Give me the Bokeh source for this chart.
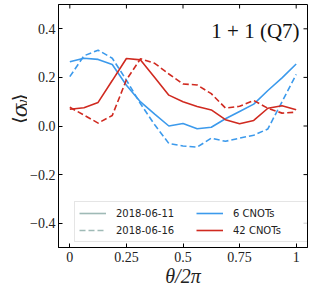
import math
from bokeh.plotting import figure
from bokeh.layouts import row
from bokeh.models import Legend, LegendItem, FixedTicker, Label, Range1d
from bokeh.embed import file_html
from bokeh.resources import INLINE

# ---- data ----
theta = [0, 0.0625, 0.125, 0.1875, 0.25, 0.3125, 0.375, 0.4375, 0.5,
         0.5625, 0.625, 0.6875, 0.75, 0.8125, 0.875, 0.9375, 1.0]
sy_6cnot_0611 = [0.264, 0.279, 0.274, 0.253, 0.168, 0.099, 0.049, 0.000, 0.010,
                 -0.011, -0.005, 0.030, 0.060, 0.090, 0.146, 0.198, 0.255]
sy_6cnot_0616 = [0.203, 0.289, 0.312, 0.279, 0.189, 0.091, 0.005, -0.072, -0.082,
                 -0.087, -0.050, -0.063, -0.050, -0.038, -0.012, 0.100, 0.212]
sy_42cnot_0611 = [0.069, 0.075, 0.097, 0.187, 0.278, 0.272, 0.200, 0.127, 0.100,
                  0.080, 0.066, 0.026, 0.009, 0.023, 0.073, 0.083, 0.067]
sy_42cnot_0616 = [0.077, 0.045, 0.012, 0.043, 0.190, 0.277, 0.258, 0.214, 0.173,
                  0.169, 0.133, 0.074, 0.081, 0.105, 0.073, 0.053, 0.057]

x_ticks = [0, 0.25, 0.5, 0.75, 1]
x_tick_labels = ["0", "0.25", "0.5", "0.75", "1"]
y_ticks = [-0.4, -0.2, 0, 0.2, 0.4]
y_tick_labels = ["\u22120.4", "\u22120.2", "0.0", "0.2", "0.4"]

date_labels = ["2018-06-11", "2018-06-16"]
cnot_labels = ["6 CNOTs", "42 CNOTs"]
title_text = "1 + 1 (Q7)"

BLUE = "#3c9aec"
RED = "#d02a20"
GREY = "#9fbab6"
SERIF = "Liberation Serif"
DASH = "6 3"
NAN = float("nan")
H = 291
STRIP_W = 27

xr = Range1d(-0.05, 1.05)
yr = Range1d(-0.5, 0.5)
p = figure(width=311 - STRIP_W, height=H, output_backend="svg", toolbar_location=None,
           x_range=xr, y_range=yr,
           min_border_left=57 - STRIP_W, min_border_right=4, min_border_top=4,
           min_border_bottom=44)
p.grid.visible = False
p.outline_line_color = "black"
p.outline_line_width = 1
p.background_fill_color = "white"
p.border_fill_color = "white"

def style_axis(ax, ticks, labels):
    ax.ticker = FixedTicker(ticks=ticks, minor_ticks=[])
    ax.major_label_overrides = {float(t): l for t, l in zip(ticks, labels)}
    ax.major_tick_in = 4
    ax.major_tick_out = 0
    ax.minor_tick_in = 0
    ax.minor_tick_out = 0
    ax.axis_line_color = "black"
    ax.major_tick_line_color = "black"
    ax.major_label_text_font = SERIF
    ax.major_label_text_color = "#222222"
    ax.major_label_text_font_size = "14px"
    ax.major_label_standoff = 4

style_axis(p.xaxis[0], x_ticks, x_tick_labels)
style_axis(p.yaxis[0], y_ticks, y_tick_labels)
p.yaxis[0].major_label_standoff = 3
p.xaxis[0].axis_label = "\u03b8/2\u03c0"
p.xaxis[0].axis_label_text_font = SERIF
p.xaxis[0].axis_label_text_font_style = "italic"
p.xaxis[0].axis_label_text_font_size = "20px"
p.xaxis[0].axis_label_standoff = 0
p.xaxis[0].axis_label_text_color = "#222222"

# inward ticks on the top and right spines (clipped to the frame)
p.scatter(x_ticks, [yr.end] * len(x_ticks), marker="dash", angle=math.pi / 2,
          size=8, line_color="black", line_width=1)
p.scatter([xr.end] * len(y_ticks), y_ticks, marker="dash",
          size=8, line_color="black", line_width=1)

# data lines
p.line(theta, sy_6cnot_0611, line_color=BLUE, line_width=1.6)
p.line(theta, sy_6cnot_0616, line_color=BLUE, line_width=1.6, line_dash=DASH)
p.line(theta, sy_42cnot_0611, line_color=RED, line_width=1.6)
p.line(theta, sy_42cnot_0616, line_color=RED, line_width=1.6, line_dash=DASH)

# legend proxies (no visible data)
r_d1 = p.line([NAN], [NAN], line_color=GREY, line_width=1.6)
r_d2 = p.line([NAN], [NAN], line_color=GREY, line_width=1.6, line_dash=DASH)
r_c1 = p.line([NAN], [NAN], line_color=BLUE, line_width=1.6)
r_c2 = p.line([NAN], [NAN], line_color=RED, line_width=1.6)

legend = Legend(items=[LegendItem(label=date_labels[0], renderers=[r_d1]),
                       LegendItem(label=date_labels[1], renderers=[r_d2]),
                       LegendItem(label=cnot_labels[0], renderers=[r_c1]),
                       LegendItem(label=cnot_labels[1], renderers=[r_c2])],
                location=(16, 5), ncols=2)
legend.label_text_font = "DejaVu Sans"
legend.label_text_font_size = "10px"
legend.label_text_color = "#222222"
legend.glyph_width = 27
legend.glyph_height = 14
legend.label_height = 14
legend.label_width = 77
legend.label_standoff = 10
legend.spacing = 3
legend.padding = 4
legend.margin = 0
legend.border_line_color = "#cccccc"
legend.border_line_width = 1
legend.background_fill_color = "white"
legend.background_fill_alpha = 0.8
p.add_layout(legend)

# title inside plot
p.add_layout(Label(x=1.015, y=0.391, text=title_text, text_align="right",
                   text_baseline="alphabetic", text_font=SERIF, text_font_size="21px",
                   text_color="#111111"))

# narrow strip at the left carrying the rotated y-axis label <sigma_y>
lab = figure(width=STRIP_W, height=H, output_backend="svg", toolbar_location=None,
             x_range=Range1d(0, STRIP_W), y_range=Range1d(0, H),
             x_axis_type=None, y_axis_type=None, min_border=0)
lab.grid.visible = False
lab.outline_line_color = None
lab.background_fill_color = "white"
lab.border_fill_color = "white"

ylabel_parts = [  # text, x (baseline), y (start), size, style
    ("\u27e8", 19.5, H - 143, "20px", "normal"),
    ("\u03c3", 19.5, H - 135, "20px", "italic"),
    ("y", 22, H - 123.5, "14px", "italic"),
    ("\u27e9", 19.5, H - 116, "20px", "normal"),
]
for txt, lx, ly, fs, st in ylabel_parts:
    lab.add_layout(Label(x=lx, y=ly, text=txt, angle=math.pi / 2, text_align="left",
                         text_baseline="alphabetic", text_font="DejaVu Serif",
                         text_font_style=st, text_font_size=fs, text_color="#222222"))

layout = row(lab, p)
open("out.html", "w").write(file_html(layout, INLINE))
